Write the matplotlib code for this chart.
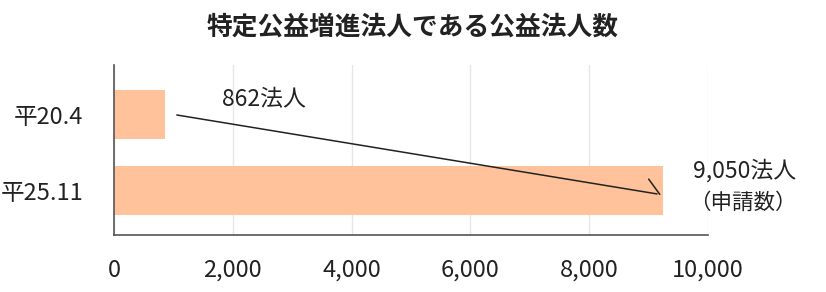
import matplotlib
matplotlib.use("Agg")
import matplotlib.pyplot as plt

plt.rcParams['font.family'] = ['Noto Sans CJK JP', 'DejaVu Sans']

# Data
periods = ["平20.4", "平25.11"]
counts = [862, 9250]
count_labels = ["862法人", "9,050法人"]
note = "（申請数）"
xticks = [0, 2000, 4000, 6000, 8000, 10000]
title = "特定公益増進法人である公益法人数"

bar_color = "#FFC29B"
text_color = "#222222"

fig = plt.figure(figsize=(8.26, 2.92), dpi=100)
ax = fig.add_axes([0.138, 0.195, 0.719, 0.582])

ypos = list(range(len(periods)))
ax.barh(ypos, counts, height=0.645, color=bar_color, zorder=2)

ax.set_xlim(0, 10000)
ax.set_ylim(1.585, -0.65)
ax.set_xticks(xticks)
ax.set_xticklabels([f"{v:,}" for v in xticks], fontsize=17, color=text_color)
ax.set_yticks(ypos)
ax.set_yticklabels(periods, fontsize=17, color=text_color)
ax.tick_params(axis='x', length=0, pad=17)
ax.tick_params(axis='y', length=0, pad=22)

ax.grid(axis='x', color="#e6e6e6", linewidth=1, zorder=0)
for s in ["top", "right"]:
    ax.spines[s].set_visible(False)
for s in ["left", "bottom"]:
    ax.spines[s].set_color("#555555")
    ax.spines[s].set_linewidth(1.2)

# connecting line with a half arrow head
start = (counts[0] + 150, 0.0)
end = (counts[1] - 60, 1.05)
ax.annotate("", xy=end, xytext=start,
            arrowprops=dict(arrowstyle="-", color="#222222", lw=1.1), zorder=3)
ax.annotate("", xy=end, xytext=(-8, 11), textcoords="offset points",
            arrowprops=dict(arrowstyle="-", color="#222222", lw=1.1,
                            shrinkA=0, shrinkB=0), zorder=3)

ax.text(1820, -0.19, count_labels[0], fontsize=16.5, color=text_color,
        va="center", ha="left")
ax.text(counts[1] + 500, 0.745, count_labels[1], fontsize=16.5, color=text_color,
        va="center", ha="left", clip_on=False)
ax.text(counts[1] + 430, 1.16, note, fontsize=15.5, color=text_color,
        va="center", ha="left", clip_on=False)

fig.suptitle(title, x=0.5, y=0.955, fontsize=18.5, fontweight="bold",
             color=text_color)

fig.savefig("out.png", dpi=100)
